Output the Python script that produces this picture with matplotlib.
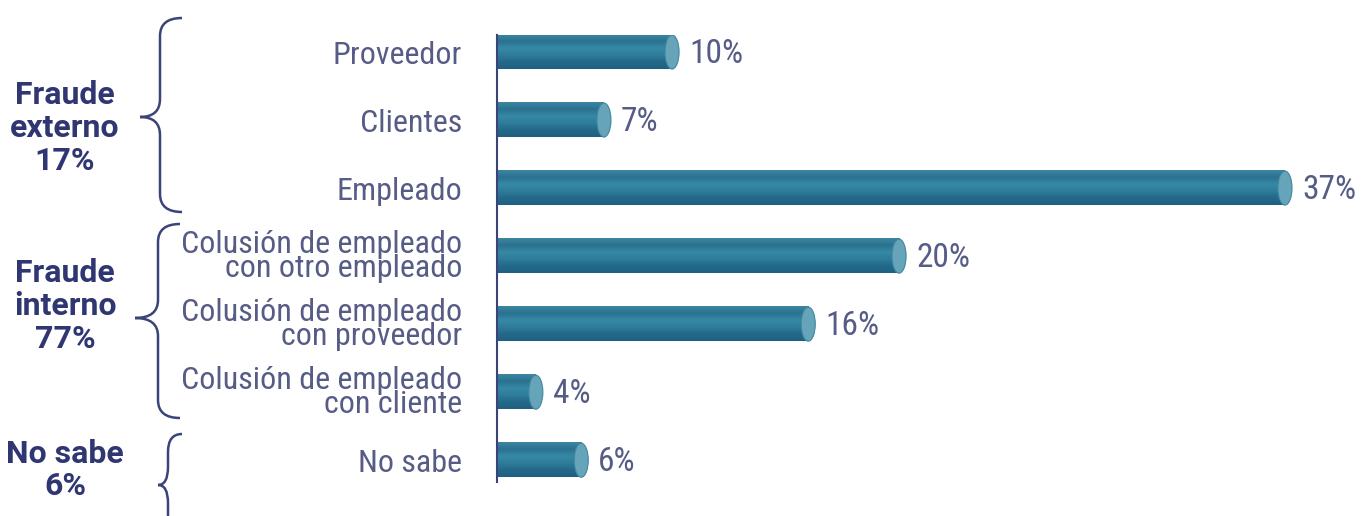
import matplotlib
matplotlib.use("Agg")
import numpy as np
import matplotlib.pyplot as plt
from matplotlib.patches import Ellipse, PathPatch
from matplotlib.path import Path
from matplotlib.colors import LinearSegmentedColormap

# Data
categories = ["Proveedor", "Clientes", "Empleado",
              "Colusión de empleado\ncon otro empleado",
              "Colusión de empleado\ncon proveedor",
              "Colusión de empleado\ncon cliente",
              "No sabe"]
values = [10, 7, 37, 20, 16, 4, 6]
value_labels = ["10%", "7%", "37%", "20%", "16%", "4%", "6%"]
group_labels = ["Fraude\nexterno\n17%", "Fraude\ninterno\n77%", "No sabe\n6%"]

W, H = 1366, 516
FONT = ["Roboto Condensed", "DejaVu Sans"]
BOLD_FONT = ["Roboto", "DejaVu Sans"]
TEXT_C = "#565c86"
GROUP_C = "#2f3672"
CAP_C = "#66a5b9"

# vertical shading of the cylinder, top -> bottom
shade = LinearSegmentedColormap.from_list(
    "cyl", ["#3d86a0", "#2a7190", "#3689a5", "#2e7d99", "#24698a", "#1f6080"])

fig = plt.figure(figsize=(W / 100, H / 100), dpi=100, facecolor="white")
ax = fig.add_axes([497 / W, 1 - 482 / H, (W - 497) / W, (482 - 35) / H])

y = list(range(len(values)))
bh = 0.5
ax.barh(y, values, height=bh, color="#2b7591", edgecolor="none", zorder=2)
grad = np.linspace(0, 1, 64).reshape(-1, 1)
for yi, v, lab in zip(y, values, value_labels):
    ax.imshow(grad, cmap=shade, aspect="auto", zorder=3,
              extent=[0, v, yi + bh / 2, yi - bh / 2], interpolation="bicubic")
    cap = Ellipse((v, yi), width=0.62, height=bh, facecolor=CAP_C,
                  edgecolor="#3f869f", linewidth=0.8, zorder=4)
    ax.add_patch(cap)
    ax.text(v + 0.75, yi + 0.03, lab, ha="left", va="center", fontsize=24,
            color=TEXT_C, family=FONT)

ax.set_xlim(2.29, 40.57)
ax.set_ylim(6.32, -0.25)
ax.set_yticks(y)
ax.set_yticklabels(categories, fontsize=23, color=TEXT_C, family=FONT,
                   linespacing=0.78)
ax.tick_params(axis="y", length=0, pad=25)
ax.set_xticks([])
for s in ["top", "right", "bottom"]:
    ax.spines[s].set_visible(False)
ax.spines["left"].set_color("#3b4478")
ax.spines["left"].set_linewidth(1.5)
ax.spines["left"].set_zorder(5)


def brace(x_tip, x_mid, x_end, y_top, y_tip, y_bot, r=18):
    pts = [(x_end, y_top), (x_mid, y_top), (x_mid, y_top + r),
           (x_mid, y_tip - r), (x_mid, y_tip), (x_tip, y_tip),
           (x_mid, y_tip), (x_mid, y_tip + r),
           (x_mid, y_bot - r), (x_mid, y_bot), (x_end, y_bot)]
    codes = [Path.MOVETO, Path.CURVE3, Path.CURVE3,
             Path.LINETO, Path.CURVE3, Path.CURVE3,
             Path.CURVE3, Path.CURVE3,
             Path.LINETO, Path.CURVE3, Path.CURVE3]
    pts = [(px / W, 1 - py / H) for px, py in pts]
    fig.patches.append(PathPatch(Path(pts, codes), transform=fig.transFigure,
                                 facecolor="none", edgecolor="#3b4478", linewidth=1.8))


brace(140, 160, 182, 18, 117, 212)
brace(135, 158, 180, 224, 318, 418)
brace(158, 168, 182, 434, 485, 540)

group_y = [128, 306, 470]
for lab, gy in zip(group_labels, group_y):
    fig.text(65 / W, 1 - gy / H, lab, ha="center", va="center", fontsize=23,
             fontweight="bold", color=GROUP_C, family=BOLD_FONT, linespacing=1.12)

fig.savefig("out.png", dpi=100, facecolor="white")
